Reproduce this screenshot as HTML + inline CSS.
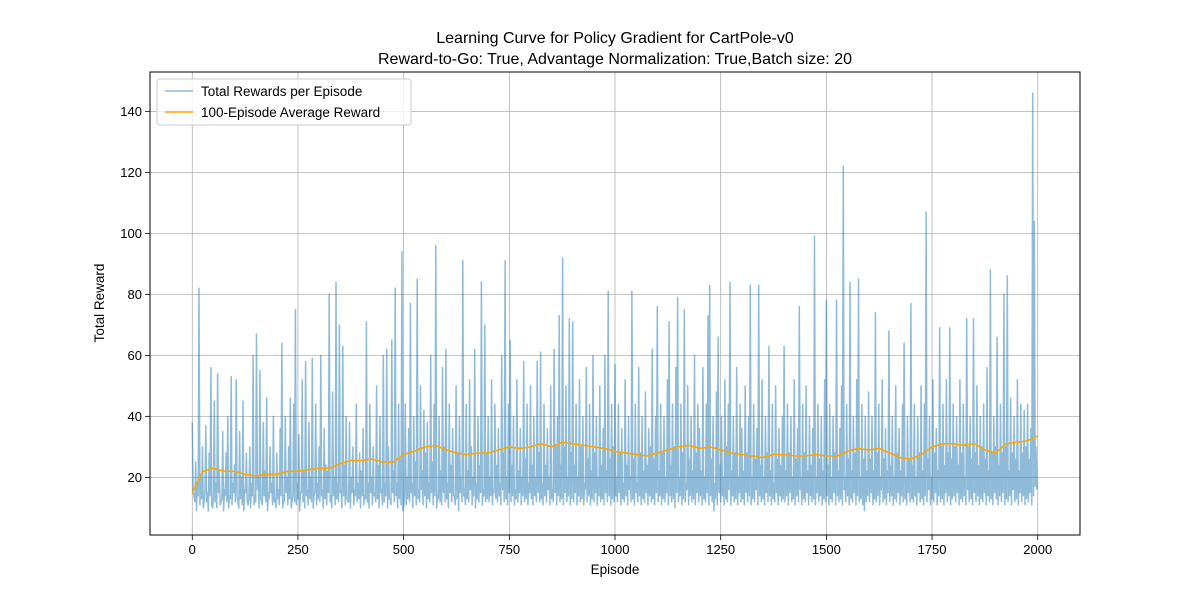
<!DOCTYPE html>
<html><head><meta charset="utf-8"><style>
html,body{margin:0;padding:0;background:#fff;}
svg{display:block;font-family:"Liberation Sans","DejaVu Sans",sans-serif;}
</style></head><body>
<svg id="chart" width="1200" height="600" viewBox="0 0 1200 600">
<rect x="0" y="0" width="1200" height="600" fill="#fff"/>
<g id="grid"></g>
<g id="series"></g>
<rect x="150" y="72" width="930" height="463" fill="none" stroke="#000" stroke-width="1"/>
<g id="ticks"></g>
<text x="615" y="43" text-anchor="middle" font-size="16">Learning Curve for Policy Gradient for CartPole-v0</text>
<text x="615" y="64" text-anchor="middle" font-size="16">Reward-to-Go: True, Advantage Normalization: True,Batch size: 20</text>
<text x="615" y="574" text-anchor="middle" font-size="13.5">Episode</text>
<text x="104" y="303" text-anchor="middle" font-size="13.5" transform="rotate(-90 104 303)">Total Reward</text>
<g>
<rect x="157" y="79" width="254" height="46" rx="3" fill="#fff" fill-opacity="0.8" stroke="#ccc"/>
<line x1="165" y1="91" x2="193" y2="91" stroke="#1f77b4" stroke-opacity="0.5" stroke-width="1.5"/>
<text x="201" y="96" font-size="13.5">Total Rewards per Episode</text>
<line x1="165" y1="112" x2="193" y2="112" stroke="#ffa500" stroke-width="1.5"/>
<text x="201" y="117" font-size="13.5">100-Episode Average Reward</text>
</g>
</svg>
<script>
const rewardStep = 4;
const rewards = [
38,14,25,18,82,20,30,12,37,15,28,56,10,45,18,54,22,12,35,16,28,40,14,53,18,
24,52,12,35,20,45,16,28,11,30,18,60,14,67,20,55,12,38,22,46,15,30,18,40,13,
28,16,36,64,14,40,20,30,46,12,44,75,18,34,15,52,22,58,16,38,20,59,14,44,18,
30,60,16,36,24,22,80,14,48,20,84,18,70,16,63,24,40,12,38,20,30,16,44,18,28,
22,36,14,71,18,44,20,30,15,50,24,40,16,60,18,62,30,13,65,22,82,18,44,26,94,
10,44,20,36,77,18,40,25,85,16,50,22,42,28,38,18,60,25,44,96,14,40,22,56,30,
62,18,44,24,36,14,50,28,40,20,91,16,44,22,52,30,20,62,18,40,24,84,16,70,28,
40,20,52,16,44,24,36,18,60,28,91,20,44,65,24,40,16,52,22,36,20,58,26,44,18,
50,24,40,20,58,28,61,18,44,24,36,20,50,16,62,30,40,73,24,92,30,50,20,72,28,
71,24,44,20,52,30,40,18,56,26,44,22,60,28,40,20,50,24,36,60,22,81,26,44,30,
57,20,44,28,36,18,52,24,40,20,81,26,44,18,56,28,40,22,48,24,36,30,62,26,40,
76,22,44,28,40,20,52,71,24,44,30,56,79,20,44,28,75,18,50,26,40,22,60,28,44,
36,22,56,20,44,73,83,26,40,18,48,66,24,40,20,52,30,44,84,22,40,28,56,20,44,
36,22,50,28,40,83,20,44,26,36,83,24,52,20,40,28,63,22,44,18,50,26,36,24,40,
63,22,44,28,40,20,52,26,36,76,20,44,28,50,22,40,24,36,99,20,44,26,40,22,52,
78,24,44,20,40,28,78,22,36,50,122,20,44,26,84,22,40,28,52,85,20,44,26,40,22,
48,26,40,22,74,28,44,20,52,26,36,22,68,24,40,20,50,28,36,22,44,64,20,40,26,
77,24,44,20,40,28,50,22,44,107,26,40,20,52,28,36,22,69,30,44,24,52,28,69,26,
44,30,40,24,52,28,44,20,72,30,40,26,72,28,50,24,40,30,44,26,56,22,88,28,40,
30,66,24,44,28,80,30,86,22,46,28,40,26,52,22,44,28,42,30,44,26,36,146,104,30
];
// low values of the noise band, at episodes i*4+2
const rewardLows = [
15,12,9,14,11,13,10,16,12,9,14,11,13,12,10,15,11,13,9,14,12,10,13,11,15,
12,14,10,13,11,9,15,12,13,10,14,11,12,16,10,13,11,14,12,9,13,15,11,12,10,
13,11,14,10,12,15,11,13,10,14,12,11,13,9,15,12,10,14,11,13,12,10,15,11,13,
12,14,10,13,11,15,12,10,14,11,13,12,15,10,14,11,13,12,10,15,11,14,12,13,10,
14,11,13,12,10,15,11,14,12,13,10,15,11,12,14,10,13,11,15,12,14,10,13,11,9,
14,11,13,12,15,10,14,11,13,12,16,11,14,10,13,12,15,11,14,10,13,12,11,15,12,
13,10,15,12,14,11,13,9,15,12,14,11,13,12,16,11,14,10,13,12,15,11,14,12,13,
12,14,11,15,13,12,14,11,16,12,13,11,15,12,14,11,13,12,15,11,14,12,13,11,15,
13,11,14,12,15,12,13,11,14,12,16,11,13,12,15,11,14,12,13,11,15,12,14,11,13,
12,15,11,14,12,13,11,16,12,14,11,13,12,15,11,14,12,13,11,15,12,14,11,13,12,
14,12,15,11,13,12,14,11,16,12,13,11,15,12,14,11,13,12,15,11,14,12,13,11,15,
12,14,11,13,12,15,11,14,12,13,10,15,12,14,11,13,12,16,11,14,12,13,11,15,12,
14,11,13,12,15,11,14,12,9,13,11,15,12,14,11,13,12,16,11,14,12,13,11,15,12,
13,11,15,12,14,11,13,12,16,11,14,12,13,11,15,12,14,11,13,12,15,11,14,12,13,
12,14,11,15,12,13,11,14,12,16,11,13,12,15,11,14,12,13,11,15,12,14,11,13,12,
14,11,13,12,15,11,14,12,13,11,16,12,14,11,13,12,15,11,14,12,13,11,9,12,14,
12,15,11,13,12,14,11,16,12,13,11,15,12,14,11,13,12,15,11,14,12,13,11,15,12,
13,12,14,11,15,12,13,11,14,12,16,11,13,12,15,11,14,12,13,11,15,12,14,11,13,
14,12,15,11,13,12,14,11,16,12,13,11,15,12,14,11,13,12,15,11,14,12,13,11,15,
13,11,14,12,15,11,13,12,14,11,16,12,13,11,15,12,14,11,13,12,15,11,14,17,16
];
const avgStep = 25;
const avgRewards = [15,22,23,22,22,21,20.5,21,21,22,22,22.5,23,23,24.5,25.5,25.5,26,25,25,
27.5,28.5,30,30.5,29,28,27.5,28,28,29,30,29.5,30,31,30,31.5,31,30.5,30,29.5,
28.5,28,27.5,27,28,29,30,30.5,29.5,30,29,28,27.5,27,26.5,27.5,27.5,27,27,27.5,
27,27,28.5,29.5,29,29.5,28,26.5,26,27.5,30,31,31,30.5,31,29,28,31,31.5,32,33.5];
const xTicks = [0,250,500,750,1000,1250,1500,1750,2000];
const yTicks = [20,40,60,80,100,120,140];

const X0=150,X1=1080,Y0=535,Y1=72, xMin=-100,xMax=2100,yMin=1.1,yMax=152.9;
const sx=v=>X0+(v-xMin)/(xMax-xMin)*(X1-X0);
const sy=v=>Y0-(v-yMin)/(yMax-yMin)*(Y0-Y1);
const NS="http://www.w3.org/2000/svg";
function mk(tag,attrs,parent){const e=document.createElementNS(NS,tag);for(const k in attrs)e.setAttribute(k,attrs[k]);parent.appendChild(e);return e;}
const grid=document.getElementById('grid'),ticks=document.getElementById('ticks'),series=document.getElementById('series');
xTicks.forEach(t=>{
  const x=sx(t);
  const g=mk('line',{x1:x,x2:x,y1:Y1,y2:Y0,stroke:'#b0b0b0','stroke-width':0.8},grid);
  
  
  const tk=mk('line',{x1:x,x2:x,y1:Y0,y2:Y0+5,stroke:'#000','stroke-width':0.8},ticks);
  
  
  const lb=mk('text',{x:x,y:Y0+19,'text-anchor':'middle','font-size':13},ticks);
  lb.textContent=t;
  
  
});
yTicks.forEach(t=>{
  const y=sy(t);
  const g=mk('line',{x1:X0,x2:X1,y1:y,y2:y,stroke:'#b0b0b0','stroke-width':0.8},grid);
  
  
  const tk=mk('line',{x1:X0-5,x2:X0,y1:y,y2:y,stroke:'#000','stroke-width':0.8},ticks);
  
  
  const lb=mk('text',{x:X0-8,y:y+4.5,'text-anchor':'end','font-size':13},ticks);
  lb.textContent=t;
  
  
});
const pts=[];
rewards.forEach((v,i)=>{
  pts.push(sx(i*rewardStep).toFixed(1)+','+sy(v).toFixed(1));
  if(i<rewardLows.length) pts.push(sx(i*rewardStep+rewardStep/2).toFixed(1)+','+sy(rewardLows[i]).toFixed(1));
});
const rl=mk('polyline',{points:pts.join(' '),fill:'none',stroke:'#1f77b4','stroke-opacity':0.5,'stroke-width':1.5,'stroke-linejoin':'round'},series);


const ap=avgRewards.map((v,i)=>sx(i*avgStep).toFixed(1)+','+sy(v).toFixed(1)).join(' ');
const al=mk('polyline',{points:ap,fill:'none',stroke:'#ffa500','stroke-width':1.6,'stroke-linejoin':'round'},series);


</script>
</body></html>
